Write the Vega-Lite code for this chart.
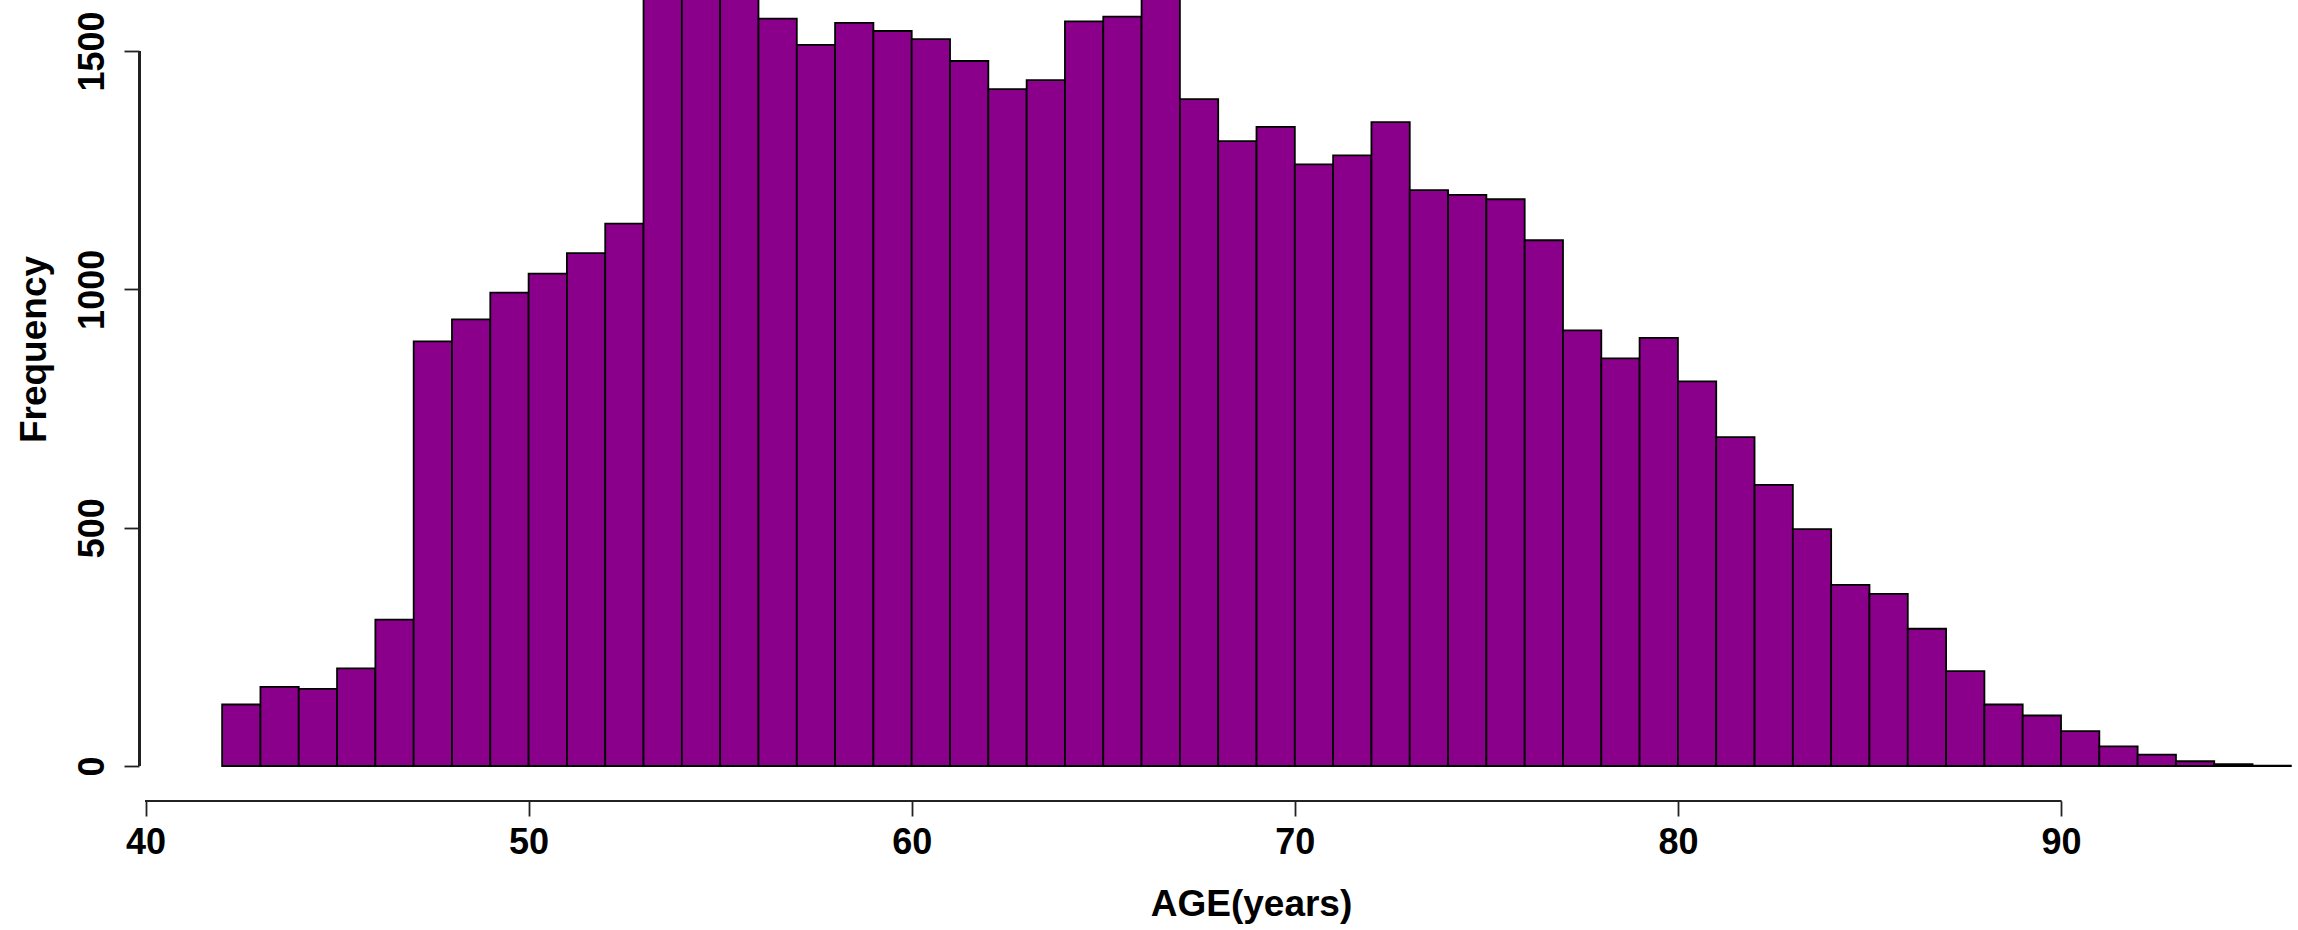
{
  "$schema": "https://vega.github.io/schema/vega-lite/v6.json",
  "width": 2159,
  "height": 801,
  "autosize": {"type": "none"},
  "padding": {"left": 139, "top": 0, "right": 0, "bottom": 129},
  "background": "white",
  "config": {"view": {"stroke": null}, "font": "Liberation Sans"},
  "data": {"values": [
    {"bin_start": 42, "bin_end": 43, "count": 129},
    {"bin_start": 43, "bin_end": 44, "count": 166},
    {"bin_start": 44, "bin_end": 45, "count": 162},
    {"bin_start": 45, "bin_end": 46, "count": 205},
    {"bin_start": 46, "bin_end": 47, "count": 307},
    {"bin_start": 47, "bin_end": 48, "count": 891},
    {"bin_start": 48, "bin_end": 49, "count": 937},
    {"bin_start": 49, "bin_end": 50, "count": 993},
    {"bin_start": 50, "bin_end": 51, "count": 1033},
    {"bin_start": 51, "bin_end": 52, "count": 1076},
    {"bin_start": 52, "bin_end": 53, "count": 1138},
    {"bin_start": 53, "bin_end": 54, "count": 1690},
    {"bin_start": 54, "bin_end": 55, "count": 1740},
    {"bin_start": 55, "bin_end": 56, "count": 1680},
    {"bin_start": 56, "bin_end": 57, "count": 1568},
    {"bin_start": 57, "bin_end": 58, "count": 1513},
    {"bin_start": 58, "bin_end": 59, "count": 1559},
    {"bin_start": 59, "bin_end": 60, "count": 1542},
    {"bin_start": 60, "bin_end": 61, "count": 1525},
    {"bin_start": 61, "bin_end": 62, "count": 1479},
    {"bin_start": 62, "bin_end": 63, "count": 1420},
    {"bin_start": 63, "bin_end": 64, "count": 1439},
    {"bin_start": 64, "bin_end": 65, "count": 1562},
    {"bin_start": 65, "bin_end": 66, "count": 1572},
    {"bin_start": 66, "bin_end": 67, "count": 1650},
    {"bin_start": 67, "bin_end": 68, "count": 1399},
    {"bin_start": 68, "bin_end": 69, "count": 1311},
    {"bin_start": 69, "bin_end": 70, "count": 1341},
    {"bin_start": 70, "bin_end": 71, "count": 1262},
    {"bin_start": 71, "bin_end": 72, "count": 1281},
    {"bin_start": 72, "bin_end": 73, "count": 1351},
    {"bin_start": 73, "bin_end": 74, "count": 1208},
    {"bin_start": 74, "bin_end": 75, "count": 1198},
    {"bin_start": 75, "bin_end": 76, "count": 1189},
    {"bin_start": 76, "bin_end": 77, "count": 1103},
    {"bin_start": 77, "bin_end": 78, "count": 914},
    {"bin_start": 78, "bin_end": 79, "count": 855},
    {"bin_start": 79, "bin_end": 80, "count": 898},
    {"bin_start": 80, "bin_end": 81, "count": 807},
    {"bin_start": 81, "bin_end": 82, "count": 690},
    {"bin_start": 82, "bin_end": 83, "count": 590},
    {"bin_start": 83, "bin_end": 84, "count": 497},
    {"bin_start": 84, "bin_end": 85, "count": 380},
    {"bin_start": 85, "bin_end": 86, "count": 361},
    {"bin_start": 86, "bin_end": 87, "count": 288},
    {"bin_start": 87, "bin_end": 88, "count": 199},
    {"bin_start": 88, "bin_end": 89, "count": 129},
    {"bin_start": 89, "bin_end": 90, "count": 106},
    {"bin_start": 90, "bin_end": 91, "count": 73},
    {"bin_start": 91, "bin_end": 92, "count": 41},
    {"bin_start": 92, "bin_end": 93, "count": 24},
    {"bin_start": 93, "bin_end": 94, "count": 10},
    {"bin_start": 94, "bin_end": 95, "count": 4},
    {"bin_start": 95, "bin_end": 96, "count": 1}
  ]},
  "layer": [
    {
      "mark": {"type": "bar", "fill": "#8B008B", "stroke": "#000000", "strokeWidth": 1.8, "clip": true},
      "encoding": {
        "x": {
          "field": "bin_start", "type": "quantitative",
          "scale": {"domain": [39.83, 96.186], "nice": false, "zero": false},
          "axis": {
            "values": [40, 50, 60, 70, 80, 90],
            "format": "d",
            "domain": false, "grid": false,
            "tickSize": 15, "tickColor": "#222222", "tickWidth": 1.8,
            "labelFont": "Liberation Sans", "labelFontWeight": "bold", "labelFontSize": 36,
            "labelColor": "#000000", "labelPadding": 9, "labelFlush": false, "labelOverlap": false,
            "title": "AGE(years)",
            "titleFont": "Liberation Sans", "titleFontWeight": "bold", "titleFontSize": 37,
            "titleColor": "#000000", "titleX": 1112, "titleY": 114,
            "titleAlign": "center", "titleBaseline": "alphabetic", "titleAnchor": null
          }
        },
        "x2": {"field": "bin_end"},
        "y": {
          "field": "count", "type": "quantitative",
          "scale": {"domain": [-73.4, 1607], "nice": false, "zero": false},
          "axis": {
            "values": [0, 500, 1000, 1500],
            "format": "d",
            "domain": false, "grid": false,
            "tickSize": 15, "tickColor": "#222222", "tickWidth": 1.8,
            "labelFont": "Liberation Sans", "labelFontWeight": "bold", "labelFontSize": 36,
            "labelColor": "#000000", "labelAngle": 270, "labelAlign": "center",
            "labelBaseline": "bottom", "labelPadding": 13, "labelFlush": false, "labelOverlap": false,
            "title": "Frequency",
            "titleFont": "Liberation Sans", "titleFontWeight": "bold", "titleFontSize": 37,
            "titleColor": "#000000", "titleX": -94, "titleY": 349, "titleAngle": 270,
            "titleAlign": "center", "titleBaseline": "alphabetic", "titleAnchor": null
          }
        },
        "y2": {"datum": 0}
      }
    },
    {
      "mark": {"type": "rule", "color": "#222222", "strokeWidth": 1.8},
      "encoding": {
        "x": {"datum": 40, "type": "quantitative"},
        "x2": {"datum": 90},
        "y": {"datum": -73.4, "type": "quantitative"}
      }
    },
    {
      "mark": {"type": "rule", "color": "#222222", "strokeWidth": 1.8},
      "encoding": {
        "x": {"datum": 39.84, "type": "quantitative"},
        "y": {"datum": 0, "type": "quantitative"},
        "y2": {"datum": 1500}
      }
    }
  ]
}
